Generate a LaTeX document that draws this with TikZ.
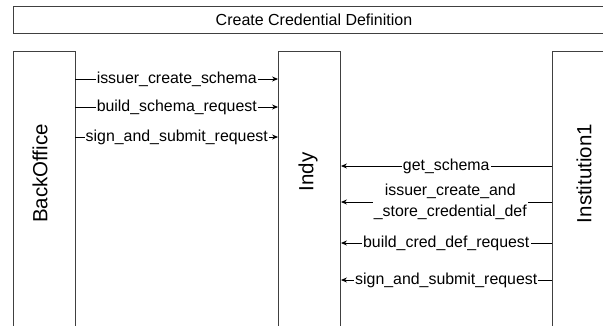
\documentclass[tikz,border=0pt]{standalone}
\usepackage{fontspec}
\setmainfont{Liberation Sans}
\usetikzlibrary{arrows.meta}
\begin{document}
\begin{tikzpicture}[x=1pt,y=-1pt,
  lifebox/.style={draw=black!75, line width=0.9pt, minimum width=62pt, minimum height=300pt, anchor=north, inner sep=0pt},
  lifelbl/.style={rotate=90, font=\fontsize{20.5}{24}\selectfont, inner sep=0pt},
  titlebox/.style={draw=black!75, line width=0.9pt, minimum width=602pt, minimum height=27pt, inner sep=0pt, font=\fontsize{16}{19}\selectfont},
  msg/.style={draw=black, line width=0.8pt, -{Stealth[length=6pt,width=5pt]}},
  lbl/.style={fill=white, inner sep=1.2pt, font=\fontsize{15.9}{21}\selectfont, align=center}]
\useasboundingbox (0,0) rectangle (603,325);
\clip (0,0) rectangle (603,325);
\node[titlebox] (title) at (314,19.5) {Create Credential Definition};
\node[lifebox] (bo) at (44,51) {};
\node[lifebox] (indy) at (309.5,51) {};
\node[lifebox] (inst) at (583,51) {};
\node[lifelbl] (bol) at (40,173.5) {BackOffice};
\node[lifelbl] (indyl) at (308,172) {Indy};
\node[lifelbl] (instl) at (584,173.5) {Institution1};
\coordinate (y1) at (0,79);
\coordinate (y2) at (0,107);
\coordinate (y3) at (0,137);
\coordinate (y4) at (0,166);
\coordinate (y5) at (0,202);
\coordinate (y6) at (0,243);
\coordinate (y7) at (0,280);
\draw[msg] (bo.east |- y1) -- node[lbl] {issuer\_create\_schema} (indy.west |- y1);
\draw[msg] (bo.east |- y2) -- node[lbl] {build\_schema\_request} (indy.west |- y2);
\draw[msg] (bo.east |- y3) -- node[lbl] {sign\_and\_submit\_request} (indy.west |- y3);
\draw[msg] (inst.west |- y4) -- node[lbl] {get\_schema} (indy.east |- y4);
\draw[msg] (inst.west |- y5) -- node[lbl, xshift=4pt] {issuer\_create\_and\\\_store\_credential\_def} (indy.east |- y5);
\draw[msg] (inst.west |- y6) -- node[lbl] {build\_cred\_def\_request} (indy.east |- y6);
\draw[msg] (inst.west |- y7) -- node[lbl] {sign\_and\_submit\_request} (indy.east |- y7);
\end{tikzpicture}
\end{document}
